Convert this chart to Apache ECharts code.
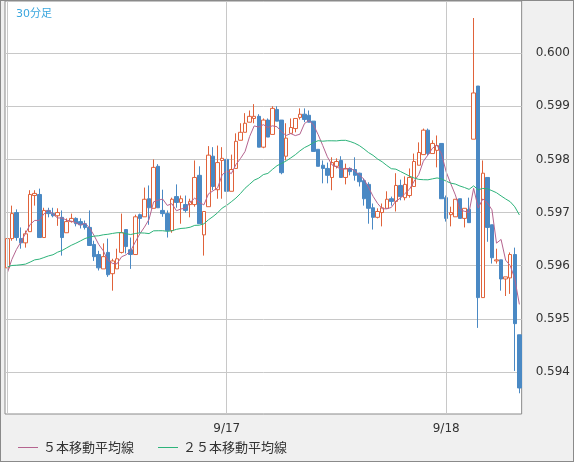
<!DOCTYPE html>
<html>
<head>
<meta charset="utf-8">
<script src="https://cdn.jsdelivr.net/npm/echarts@6/dist/echarts.min.js"></script>
<style>
  body { margin: 0; }
  #wrap { width: 572px; height: 460px; border: 1px solid #8a8a8a; background: #f0f0f0; }
  #chart { width: 572px; height: 460px; }
</style>
</head>
<body>
<div id="wrap"><div id="chart"></div></div>
<script>
// 30分足 candles, [open, close, low, high]
var candles = [
  [.59596,.59651,.59592,.59655],[.59651,.59698,.59647,.59713],[.59700,.59653,.59647,.59706],[.59651,.59643,.59632,.59672],
  [.59643,.59660,.59634,.59666],[.59664,.59734,.59664,.59742],[.59732,.59736,.59713,.59742],[.59734,.59653,.59653,.59745],
  [.59653,.59704,.59653,.59709],[.59704,.59698,.59691,.59709],[.59698,.59694,.59691,.59709],[.59694,.59700,.59675,.59708],
  [.59691,.59653,.59619,.59704],[.59662,.59683,.59662,.59689],[.59683,.59689,.59681,.59698],[.59689,.59679,.59674,.59691],
  [.59683,.59677,.59670,.59689],[.59679,.59672,.59668,.59685],[.59672,.59638,.59638,.59704],[.59640,.59617,.59609,.59647],
  [.59621,.59596,.59591,.59628],[.59594,.59617,.59594,.59642],[.59625,.59583,.59579,.59651],[.59585,.59609,.59553,.59613],
  [.59594,.59613,.59594,.59632],[.59625,.59662,.59623,.59698],[.59668,.59636,.59623,.59668],[.59630,.59621,.59594,.59653],
  [.59621,.59692,.59621,.59696],[.59696,.59689,.59662,.59698],[.59692,.59725,.59692,.59747],[.59726,.59709,.59677,.59751],
  [.59708,.59785,.59708,.59800],[.59787,.59709,.59709,.59791],[.59704,.59698,.59692,.59743],[.59698,.59666,.59653,.59704],
  [.59666,.59725,.59662,.59728],[.59730,.59719,.59709,.59753],[.59719,.59726,.59679,.59732],[.59715,.59704,.59700,.59732],
  [.59715,.59721,.59691,.59726],[.59715,.59766,.59711,.59798],[.59770,.59679,.59679,.59787],[.59658,.59702,.59619,.59702],
  [.59711,.59808,.59711,.59825],[.59806,.59749,.59742,.59823],[.59743,.59794,.59726,.59826],[.59798,.59802,.59726,.59823],
  [.59800,.59740,.59708,.59800],[.59740,.59781,.59740,.59809],[.59783,.59834,.59783,.59849],[.59836,.59851,.59836,.59868],
  [.59851,.59868,.59851,.59887],[.59870,.59881,.59870,.59892],[.59877,.59881,.59868,.59904],[.59881,.59823,.59823,.59885],
  [.59823,.59874,.59821,.59877],[.59874,.59842,.59842,.59877],[.59847,.59896,.59847,.59900],[.59894,.59872,.59872,.59900],
  [.59874,.59775,.59772,.59874],[.59806,.59840,.59798,.59868],[.59849,.59860,.59849,.59877],[.59858,.59877,.59851,.59877],
  [.59879,.59885,.59875,.59896],[.59885,.59875,.59870,.59896],[.59883,.59870,.59870,.59892],[.59872,.59815,.59815,.59872],
  [.59819,.59787,.59787,.59819],[.59789,.59783,.59755,.59798],[.59783,.59770,.59755,.59794],[.59766,.59794,.59742,.59804],
  [.59787,.59796,.59783,.59802],[.59798,.59766,.59766,.59806],[.59766,.59783,.59753,.59792],[.59783,.59777,.59770,.59785],
  [.59781,.59770,.59760,.59804],[.59774,.59758,.59749,.59775],[.59760,.59726,.59713,.59764],[.59753,.59708,.59679,.59757],
  [.59709,.59691,.59668,.59717],[.59691,.59702,.59689,.59708],[.59700,.59709,.59674,.59717],[.59708,.59725,.59708,.59740],
  [.59726,.59721,.59713,.59730],[.59721,.59751,.59702,.59774],[.59751,.59730,.59723,.59762],[.59728,.59753,.59723,.59768],
  [.59732,.59766,.59728,.59783],[.59749,.59796,.59749,.59811],[.59789,.59813,.59789,.59832],[.59809,.59855,.59809,.59858],
  [.59855,.59811,.59808,.59858],[.59811,.59830,.59811,.59836],[.59817,.59826,.59785,.59845],[.59830,.59726,.59726,.59830],
  [.59728,.59689,.59683,.59732],[.59696,.59700,.59674,.59711],[.59692,.59725,.59692,.59725],[.59726,.59689,.59689,.59726],
  [.59689,.59708,.59672,.59708],[.59706,.59681,.59681,.59728],[.59838,.59925,.59838,.60066],[.59938,.59540,.59483,.59938],
  [.59540,.59774,.59540,.59798],[.59766,.59672,.59645,.59766],[.59677,.59615,.59604,.59677],[.59609,.59611,.59604,.59632],
  [.59611,.59575,.59553,.59611],[.59575,.59579,.59543,.59579],[.59577,.59621,.59547,.59625],[.59621,.59491,.59402,.59634],
  [.59470,.59370,.59360,.59470]
];
// closes before the first visible candle (for the moving averages)
var prevCloses = [.5963,.5964,.5962,.5963,.5964,.5963,.5962,.5963,.5962,.5964,
                  .5958,.5957,.5956,.5957,.5958,.5957,.5956,.5957,.5957,.5958,.5957,.5956,.5957,.5958];
var yTicks = [0.594, 0.595, 0.596, 0.597, 0.598, 0.599, 0.600];
var dayStarts = { 48: '9/17', 96: '9/18' };

var categories = [];
for (var i = 0; i < candles.length; i++) {
  var d = 16 + Math.floor(i / 48), m = (i % 48) * 30;
  categories.push('9/' + d + ' ' + Math.floor(m / 60) + ':' + (m % 60 === 0 ? '00' : '30'));
}

function movingAvg(n) {
  var all = prevCloses.concat(candles.map(function (c) { return c[1]; }));
  var out = [];
  for (var i = 0; i < candles.length; i++) {
    var end = prevCloses.length + i, s = 0, k = 0;
    for (var j = Math.max(0, end - n + 1); j <= end; j++) { s += all[j]; k++; }
    out.push(+(s / k).toFixed(6));
  }
  return out;
}

var chart = echarts.init(document.getElementById('chart'));
chart.setOption({
  animation: false,
  backgroundColor: '#f0f0f0',
  textStyle: { fontFamily: 'DejaVu Sans, Noto Sans CJK JP' },
  title: { text: '30分足', left: 10, top: 3, textStyle: { color: '#3aa6de', fontSize: 11, fontWeight: 'normal' } },
  legend: {
    left: 12, bottom: 2, itemGap: 24, itemWidth: 20, itemHeight: 1, icon: 'rect',
    textStyle: { color: '#333', fontSize: 13, fontFamily: 'Noto Sans CJK JP' },
    data: ['５本移動平均線', '２５本移動平均線']
  },
  grid: { left: 4, right: 50, top: 0, bottom: 47, show: true, backgroundColor: '#fff', borderColor: '#8a8a8a', borderWidth: 1 },
  xAxis: {
    type: 'category', data: categories, boundaryGap: true,
    axisLine: { show: false }, axisTick: { show: false }, splitLine: { show: false },
    axisLabel: {
      margin: 9, color: '#333', fontSize: 12,
      interval: function (idx) { return dayStarts[idx] !== undefined; },
      formatter: function (v, idx) { return dayStarts[idx] || ''; }
    }
  },
  yAxis: {
    type: 'value', position: 'right', min: 0.59321, max: 0.60098, scale: true,
    axisLine: { show: false },
    axisTick: { show: false, customValues: yTicks },
    axisLabel: { customValues: yTicks, margin: 14, color: '#333', fontSize: 12, formatter: function (v) { return v.toFixed(3); } },
    splitLine: { show: true, lineStyle: { color: '#c8c8c8' } }
  },
  series: [
    {
      type: 'candlestick', data: candles, barWidth: 4,
      itemStyle: { color: '#fff', color0: '#4a89c4', borderColor: '#e0623a', borderColor0: '#4a89c4', borderWidth: 1 },
      markLine: {
        silent: true, symbol: 'none', label: { show: false },
        lineStyle: { color: '#c8c8c8', type: 'solid', width: 1 },
        data: [{ xAxis: 0 }, { xAxis: 48 }, { xAxis: 96 }]
      },
      z: 3
    },
    { name: '５本移動平均線', type: 'line', data: movingAvg(5), showSymbol: false, lineStyle: { color: '#b5648f', width: 1 }, itemStyle: { color: '#b5648f' }, z: 4 },
    { name: '２５本移動平均線', type: 'line', data: movingAvg(25), showSymbol: false, lineStyle: { color: '#2db37a', width: 1 }, itemStyle: { color: '#2db37a' }, z: 4 }
  ]
});
</script>
</body>
</html>
